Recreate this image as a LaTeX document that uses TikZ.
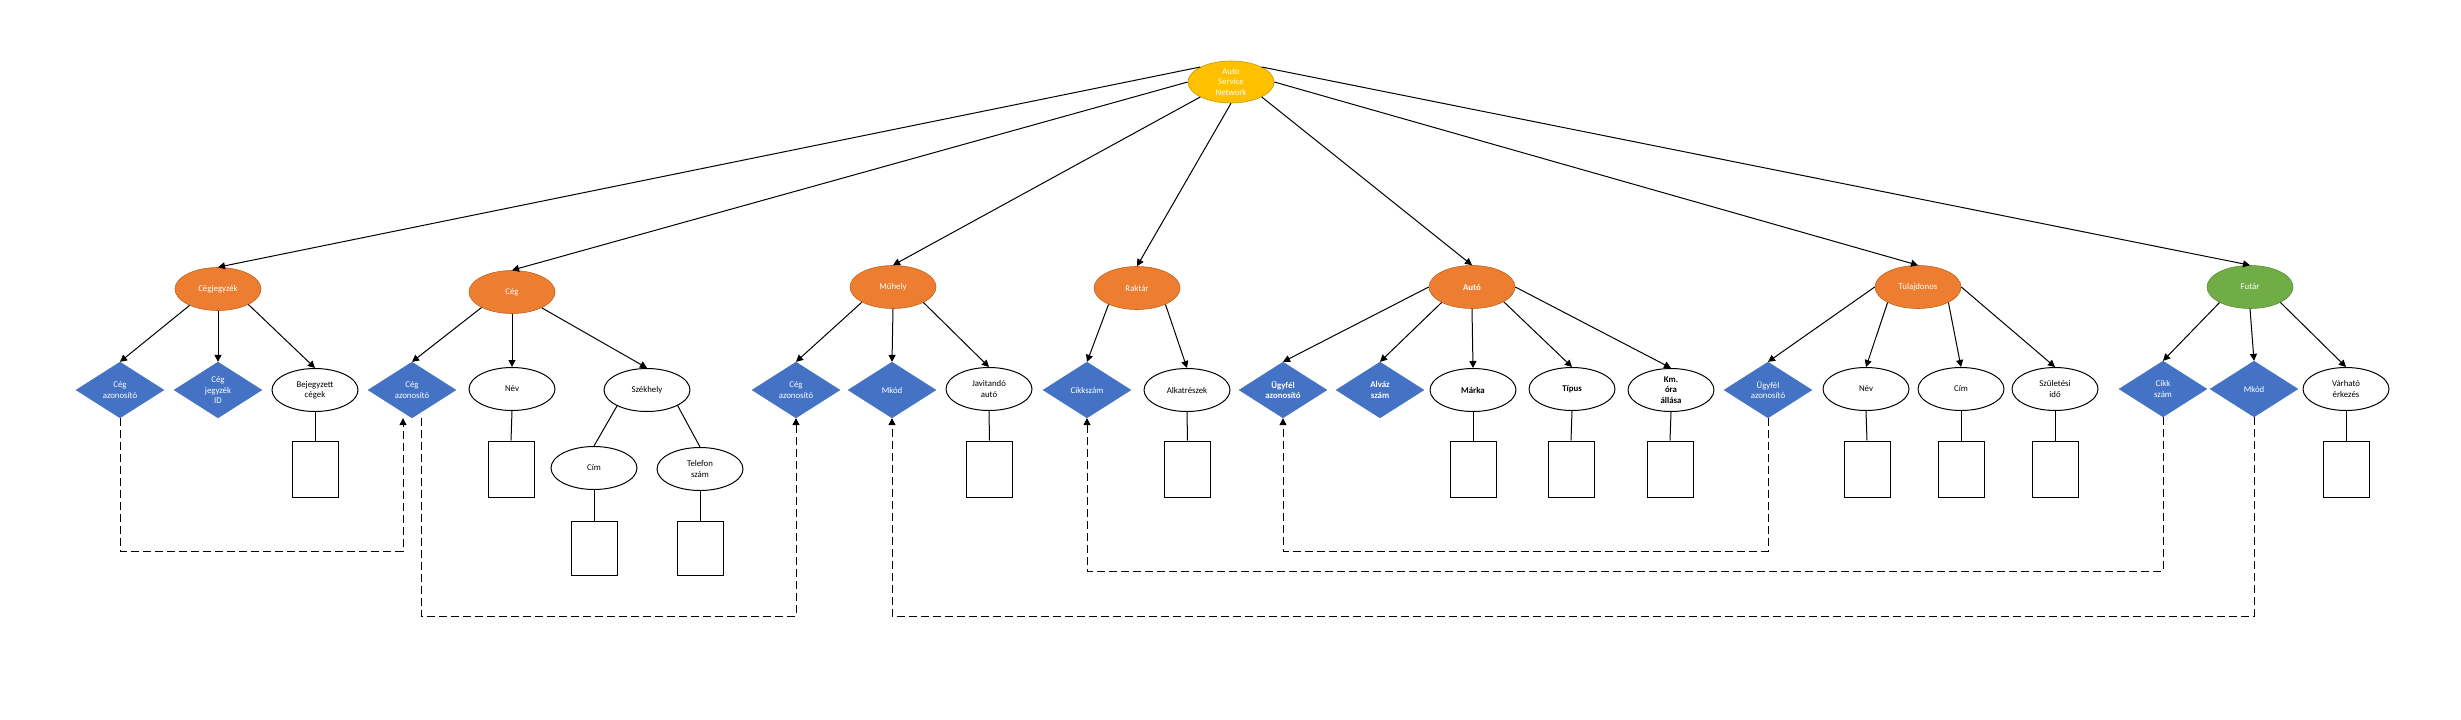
\documentclass[tikz,border=0pt]{standalone}
\usepackage{fontspec}
\setmainfont{Carlito}
\usetikzlibrary{shapes.geometric,arrows.meta,calc}
\definecolor{corange}{HTML}{ED7D31}
\definecolor{corangeD}{HTML}{C0631F}
\definecolor{cblue}{HTML}{4472C4}
\definecolor{cgold}{HTML}{FFC000}
\definecolor{cgoldD}{HTML}{C99700}
\definecolor{cgreen}{HTML}{70AD47}
\definecolor{cgreenD}{HTML}{5A8F37}
\newcommand{\dgfont}{\fontsize{8.8}{10.5}\selectfont}
\begin{document}
\begin{tikzpicture}[x=1pt,y=-1pt,
  entity/.style={ellipse, fill=corange, draw=corangeD, line width=0.6pt, minimum width=86pt, minimum height=43pt, inner sep=0pt, text=white, align=center, font=\dgfont},
  rootnode/.style={entity, fill=cgold, draw=cgoldD, minimum height=42pt},
  greennode/.style={entity, fill=cgreen, draw=cgreenD},
  keyd/.style={diamond, fill=cblue, draw=cblue, line width=0.3pt, minimum width=88pt, minimum height=56pt, inner sep=0pt, aspect=1.6, text=white, align=center, font=\dgfont},
  attr/.style={ellipse, draw=black, line width=1pt, fill=white, minimum width=86pt, minimum height=43pt, inner sep=0pt, align=center, font=\dgfont},
  valbox/.style={rectangle, draw=black, line width=1pt, fill=white, minimum width=46pt, minimum height=56pt, inner sep=0pt},
  conn/.style={line width=1pt, -{Triangle[length=7pt,width=7pt]}},
  link/.style={line width=1pt},
  dconn/.style={line width=1pt, dash pattern=on 8pt off 4pt, -{Triangle[length=7pt,width=7pt]}},
  bf/.style={font=\dgfont\bfseries}
]
\useasboundingbox[fill=white] (0,0) rectangle (2461,720);

% root and level 1
\node[rootnode] (root) at (1231,82) {Auto\\Service\\Network};
\node[entity] (cj)  at (218,289) {Cégjegyzék};
\node[entity] (ceg) at (512,292) {Cég};
\node[entity] (muh) at (893,287) {Műhely};
\node[entity] (rak) at (1137,288) {Raktár};
\node[entity, bf] (aut) at (1472,287) {Autó};
\node[entity] (tul) at (1918,287) {Tulajdonos};
\node[greennode] (fut) at (2250,287) {Futár};

% level 2
\node[keyd] (ca1)  at (120,390) {Cég\\azonosító};
\node[keyd] (cjid) at (218,390) {Cég\\jegyzék\\ID};
\node[attr] (bej)  at (315,390) {Bejegyzett\\cégek};
\node[keyd] (ca2)  at (412,390) {Cég\\azonosító};
\node[attr] (nev1) at (512,389) {Név};
\node[attr] (szek) at (647,390) {Székhely};
\node[attr] (cim1) at (594,468) {Cím};
\node[attr] (tel)  at (700,469) {Telefon\\szám};
\node[keyd] (ca3)  at (796,390) {Cég\\azonosító};
\node[keyd] (mmk)  at (892,390) {Mkód};
\node[attr] (jav)  at (989,389) {Javitandó\\autó};
\node[keyd] (rcs)  at (1087,390) {Cikkszám};
\node[attr] (alk)  at (1187,390) {Alkatrészek};
\node[keyd, bf] (aua) at (1283,390) {Ügyfél\\azonosító};
\node[keyd, bf] (alv) at (1380,390) {Alváz\\szám};
\node[attr, bf] (mar) at (1473,390) {Márka};
\node[attr, bf] (tip) at (1572,389) {Típus};
\node[attr, bf] (km)  at (1671,390) {Km.\\óra\\állása};
\node[keyd] (tua)  at (1768,390) {Ügyfél\\azonosító};
\node[attr] (nev2) at (1866,389) {Név};
\node[attr] (cim2) at (1961,389) {Cím};
\node[attr] (szul) at (2055,389) {Születési\\idő};
\node[keyd] (fcs)  at (2163,389) {Cikk\\szám};
\node[keyd] (fmk)  at (2254,389) {Mkód};
\node[attr] (var)  at (2346,389) {Várható\\érkezés};

% value boxes
\node[valbox] (bbej)  at (315,469) {};
\node[valbox] (bnev1) at (511,469) {};
\node[valbox, minimum height=54pt] (bcim1) at (594,548) {};
\node[valbox, minimum height=54pt] (btel)  at (700,548) {};
\node[valbox] (bjav)  at (989.5,469) {};
\node[valbox] (balk)  at (1187.5,469) {};
\node[valbox] (bmar)  at (1473,469) {};
\node[valbox] (btip)  at (1571,469) {};
\node[valbox] (bkm)   at (1670,469) {};
\node[valbox] (bnev2) at (1867,469) {};
\node[valbox] (bcim2) at (1961,469) {};
\node[valbox] (bszul) at (2055,469) {};
\node[valbox] (bvar)  at (2346,469) {};

% root connectors
\draw[conn] (root.154) -- (cj.north);
\draw[conn] (root.west) -- (ceg.north);
\draw[conn] (root.206) -- (muh.north);
\draw[conn] (root.south) -- (rak.north);
\draw[conn] (root.334) -- (aut.north);
\draw[conn] (root.east) -- (tul.north);
\draw[conn] (root.26) -- (fut.north);

% entity -> attribute connectors
\draw[conn] (cj.210) -- (ca1.north);
\draw[conn] (cj.south) -- (cjid.north);
\draw[conn] (cj.333) -- (bej.north);
\draw[conn] (ceg.207) -- (ca2.north);
\draw[conn] (ceg.south) -- (nev1.north);
\draw[conn] (ceg.332) -- (szek.north);
\draw[conn] (muh.206) -- (ca3.north);
\draw[conn] (muh.south) -- (mmk.north);
\draw[conn] (muh.333) -- (jav.north);
\draw[conn] (rak.210) -- (rcs.north);
\draw[conn] (rak.330) -- (alk.north);
\draw[conn] (aut.west) -- (aua.north);
\draw[conn] (aut.207) -- (alv.north);
\draw[conn] (aut.south) -- (mar.north);
\draw[conn] (aut.335) -- (tip.north);
\draw[conn] (aut.east) -- (km.north);
\draw[conn] (tul.west) -- (tua.north);
\draw[conn] (tul.207) -- (nev2.north);
\draw[conn] (tul.333) -- (cim2.north);
\draw[conn] (tul.east) -- (szul.north);
\draw[conn] (fut.207) -- (fcs.north);
\draw[conn] (fut.south) -- (fmk.north);
\draw[conn] (fut.333) -- (var.north);

% plain links
\draw[link] (szek.208) -- (cim1.north);
\draw[link] (szek.333) -- (tel.north);
\draw[link] (bej.south) -- (bbej.north);
\draw[link] (nev1.south) -- (bnev1.north);
\draw[link] (cim1.south) -- (bcim1.north);
\draw[link] (tel.south) -- (btel.north);
\draw[link] (jav.south) -- (bjav.north);
\draw[link] (alk.south) -- (balk.north);
\draw[link] (mar.south) -- (bmar.north);
\draw[link] (tip.south) -- (btip.north);
\draw[link] (km.south) -- (bkm.north);
\draw[link] (nev2.south) -- (bnev2.north);
\draw[link] (cim2.south) -- (bcim2.north);
\draw[link] (szul.south) -- (bszul.north);
\draw[link] (var.south) -- (bvar.north);

% dashed reference connectors
\coordinate (ya) at (0,551);
\coordinate (yb) at (0,571);
\coordinate (yc) at (0,616);
\draw[dconn] (ca1.south) |- ([xshift=-9pt]ca2.south |- ya) -- ([xshift=-9pt]ca2.south);
\draw[dconn] ([xshift=9pt]ca2.south) |- (ca3.south |- yc) -- (ca3.south);
\draw[dconn] (fmk.south) |- (mmk.south |- yc) -- (mmk.south);
\draw[dconn] (fcs.south) |- (rcs.south |- yb) -- (rcs.south);
\draw[dconn] (tua.south) |- (aua.south |- ya) -- (aua.south);
\end{tikzpicture}
\end{document}
